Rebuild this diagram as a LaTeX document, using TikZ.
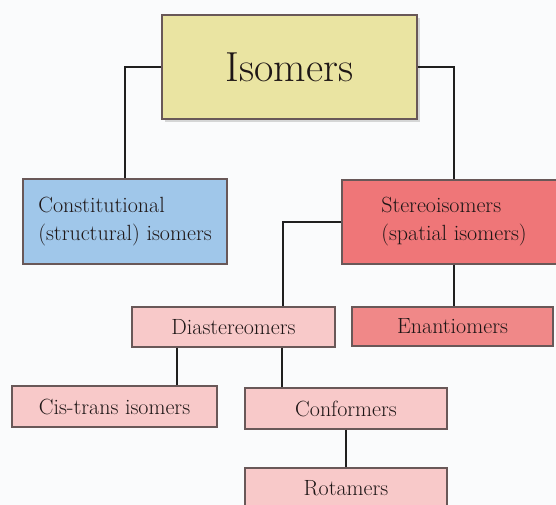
\documentclass[tikz,border=0pt]{standalone}
\usepackage{amsmath}
\usepackage{color}
\usetikzlibrary{shadows}

\definecolor{isoyellow}{RGB}{234,228,162}
\definecolor{conblue}{RGB}{160,199,234}
\definecolor{stered}{RGB}{239,118,120}
\definecolor{enared}{RGB}{240,136,136}
\definecolor{diapink}{RGB}{248,201,201}
\definecolor{boxline}{RGB}{105,88,88}
\definecolor{inkdark}{RGB}{30,22,22}
\definecolor{paper}{RGB}{250,251,252}

\begin{document}
\begin{tikzpicture}[x=1pt,y=-1pt]
\fill[paper] (0,0) rectangle (556,505);
\useasboundingbox (0,0) rectangle (556,505);
\begin{scope}[every node/.style={draw=boxline,line width=1.4pt,text=inkdark,
    rectangle,inner ysep=0pt,font=\fontsize{22}{28}\selectfont}]
    \node[fill=isoyellow,minimum width=255pt,minimum height=104pt,
        drop shadow={shadow xshift=3pt,shadow yshift=-3pt,fill=black!30},
        font=\fontsize{42}{48}\selectfont] (iso) at (289.5,67) {Isomers};
    \node[fill=conblue,align=left,minimum width=204pt,
        minimum height=85pt] (con) at (125,221.5)
        {Constitutional\\(structural) isomers};
    \node[fill=stered,align=left,minimum width=224pt,
        minimum height=84pt] (ste) at (454,222)
        {Stereoisomers\\(spatial isomers)};
    \node[fill=diapink,minimum width=203pt,minimum height=40pt] (dia) at (233.5,327) {Diastereomers};
    \node[fill=enared,minimum width=201pt,minimum height=39pt] (ena) at (452.5,326.5) {Enantiomers};
    \node[fill=diapink,minimum width=205pt,minimum height=41pt] (cis) at (114.5,406.5) {Cis-trans isomers};
    \node[fill=diapink,minimum width=202pt,minimum height=41pt] (conf) at (346,408.5) {Conformers};
    \node[fill=diapink,minimum width=202pt,minimum height=41pt] (rot) at (346,488.5) {Rotamers};
\end{scope}
\begin{scope}[every path/.style={draw=black!88,line width=2.6pt}]
    \draw (iso.east) -| (ste.north);
    \draw (iso.west) -| (con.north);
    \draw (ste.west) -| ([xshift=49.5pt]dia.north);
    \draw (ste.south) -- (ste.south |- ena.north);
    \draw ([xshift=-56.5pt]dia.south) -- ([xshift=-56.5pt]dia.south |- cis.north);
    \draw ([xshift=48.5pt]dia.south) -- ([xshift=48.5pt]dia.south |- conf.north);
    \draw (conf.south) -- (rot.north);
\end{scope}
\end{tikzpicture}
\end{document}
